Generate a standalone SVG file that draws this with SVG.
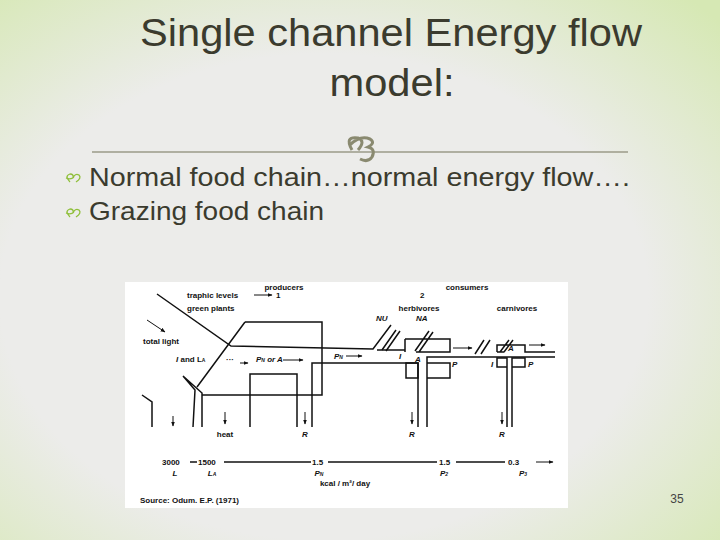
<svg xmlns="http://www.w3.org/2000/svg" width="720" height="540" viewBox="0 0 720 540">
<defs>
<radialGradient id="bg" cx="0.45" cy="0.55" r="0.75">
<stop offset="0.6" stop-color="#ececea"/><stop offset="1" stop-color="#d6e8b4"/>
</radialGradient>
<marker id="ah" viewBox="0 0 10 10" refX="9" refY="5" markerWidth="5" markerHeight="5" orient="auto"><path d="M0,1 L10,5 L0,9 z" fill="#111"/></marker>
<style>
.t{font-family:"Liberation Sans",Arial,sans-serif;fill:#3b3b2e}
.s{font-family:"Liberation Sans",Arial,sans-serif;font-size:8px;fill:#111;font-weight:bold}
.i{font-style:italic}
.l{stroke:#111;stroke-width:1.5;fill:none}
.a{stroke:#111;stroke-width:1;fill:none;marker-end:url(#ah)}
.b{stroke:#8fbf3a;stroke-width:1.3;fill:none}
</style>
</defs>
<rect width="720" height="540" fill="url(#bg)"/>
<g id="title">
<text class="t" x="391" y="46" font-size="38" text-anchor="middle" textLength="502" lengthAdjust="spacingAndGlyphs">Single channel Energy flow</text>
<text class="t" x="392" y="96" font-size="38" text-anchor="middle" textLength="125" lengthAdjust="spacingAndGlyphs">model:</text>
</g>
<g id="divider">
<line x1="92" y1="152" x2="628" y2="152" stroke="#9b9b88" stroke-width="1.5"/>
<path d="M352,150 q-8,-14 6,-12 q8,3 0,12 M350,145 q10,-10 20,-6 q6,4 -2,8 q8,2 4,10 q-4,6 -12,2" stroke="#8a8a70" stroke-width="3" fill="none"/>
</g>
<g id="bullets">
<path class="b" d="M70,182 q-6,-6 0,-8 q4,0 3,4 q2,-5 6,-3 q3,3 -3,7 M66,178 q5,2 8,-1"/>
<text class="t" x="89" y="186" font-size="26" fill="#222" textLength="541" lengthAdjust="spacingAndGlyphs">Normal food chain…normal energy flow….</text>
<path class="b" d="M70,217 q-6,-6 0,-8 q4,0 3,4 q2,-5 6,-3 q3,3 -3,7 M66,213 q5,2 8,-1"/>
<text class="t" x="89" y="220" font-size="26" textLength="235" lengthAdjust="spacingAndGlyphs">Grazing food chain</text>
</g>
<g id="figure">
<rect x="125" y="282" width="443" height="226" fill="#fff"/>
<g id="connectors">
<path class="l" d="M157,294 L231,346 L373,349 L391,325"/>
<path class="l" d="M382,350 L396,330 M386,351 L400,331"/>
<path class="l" d="M377,350 L405,350"/>
<path class="l" d="M245,322 L322,322 L322,395 L202,395 M245,322 L197,387 M183,376 L195,390 L193,427 M183,376 L202,393 L202,427"/>
<path class="l" d="M142,395 L152,402 L152,427"/>
<path class="l" d="M250,427 L250,374 L297,374 L297,427"/>
<path class="l" d="M312,427 L312,363 L418,363 L418,427 M427,427 L427,357 L555,357"/>
<path class="l" d="M405,339 L450,339 L450,352 L416,352 M405,352 L405,339 M415,351 L429,331 M419,352 L433,332"/>
<rect class="l" x="406" y="363" width="12" height="15"/>
<path class="l" d="M427,363 L450,363 L450,378 L427,378"/>
<path class="l" d="M475,354 L484,340 M481,354 L490,340"/>
<path class="l" d="M497,352 L497,345 L525,345 L525,352 L555,352 M497,352 L504,352 M500,352 L509,340 M504,352 L513,340"/>
<path class="l" d="M507,427 L507,358 L497,358 L497,367 L507,367 M512,427 L512,358 L525,358 L525,367 L512,367"/>
<line class="a" x1="453" y1="348" x2="472" y2="348"/>
<line class="a" x1="529" y1="345" x2="545" y2="345"/>
<line class="a" x1="147" y1="320" x2="165" y2="332"/>
<line class="a" x1="254" y1="295" x2="272" y2="295"/>
<line class="a" x1="283" y1="360" x2="303" y2="360"/>
<line class="a" x1="346" y1="356" x2="362" y2="356"/>
<line class="a" x1="240" y1="363" x2="248" y2="363"/>
<line class="a" x1="173" y1="416" x2="173" y2="426"/>
<line class="a" x1="225" y1="412" x2="225" y2="424"/>
<line class="a" x1="305" y1="412" x2="305" y2="424"/>
<line class="a" x1="412" y1="412" x2="412" y2="424"/>
<line class="a" x1="502" y1="412" x2="502" y2="424"/>
<line class="l" stroke-width="1" x1="190" y1="462" x2="197" y2="462"/>
<line class="l" stroke-width="1" x1="224" y1="462" x2="311" y2="462"/>
<line class="l" stroke-width="1" x1="328" y1="462" x2="437" y2="462"/>
<line class="l" stroke-width="1" x1="456" y1="462" x2="505" y2="462"/>
<line class="a" x1="536" y1="462" x2="553" y2="462"/>
</g>
<g id="labels">
<text class="s" x="284" y="290" text-anchor="middle">producers</text>
<text class="s" x="467" y="290" text-anchor="middle">consumers</text>
<text class="s" x="187" y="298">traphic levels</text>
<text class="s" x="276" y="298">1</text>
<text class="s" x="187" y="311">green plants</text>
<text class="s" x="420" y="298">2</text>
<text class="s" x="419" y="311" text-anchor="middle">herbivores</text>
<text class="s" x="517" y="311" text-anchor="middle">carnivores</text>
<text class="s" x="143" y="344">total light</text>
<text class="s i" x="376" y="321">NU</text>
<text class="s i" x="416" y="321">NA</text>
<text class="s" x="176" y="362"><tspan class="i">I</tspan> and L<tspan font-size="5">A</tspan></text>
<text class="s" x="226" y="362">···</text>
<text class="s i" x="256" y="362">P<tspan font-size="5">N</tspan> or A</text>
<text class="s i" x="334" y="359">P<tspan font-size="5">N</tspan></text>
<text class="s i" x="399" y="359">I</text>
<text class="s i" x="415" y="362">A</text>
<text class="s i" x="452" y="367">P</text>
<text class="s i" x="491" y="367">I</text>
<text class="s i" x="508" y="351">A</text>
<text class="s i" x="528" y="367">P</text>
<text class="s" x="225" y="437" text-anchor="middle">heat</text>
<text class="s i" x="305" y="437" text-anchor="middle">R</text>
<text class="s i" x="412" y="437" text-anchor="middle">R</text>
<text class="s i" x="502" y="437" text-anchor="middle">R</text>
<text class="s" x="162" y="465">3000</text>
<text class="s" x="198" y="465">1500</text>
<text class="s" x="312" y="465">1.5</text>
<text class="s" x="439" y="465">1.5</text>
<text class="s" x="508" y="465">0.3</text>
<text class="s i" x="175" y="476" text-anchor="middle">L</text>
<text class="s i" x="212" y="476" text-anchor="middle">L<tspan font-size="5">A</tspan></text>
<text class="s i" x="319" y="476" text-anchor="middle">P<tspan font-size="5">N</tspan></text>
<text class="s i" x="444" y="476" text-anchor="middle">P<tspan font-size="5">2</tspan></text>
<text class="s i" x="523" y="476" text-anchor="middle">P<tspan font-size="5">3</tspan></text>
<text class="s" x="345" y="486" text-anchor="middle">kcal / m²/ day</text>
<text class="s" x="140" y="503" font-size="7">Source: Odum. E.P. (1971)</text>
</g>
</g>
<text x="677" y="503" font-family="Liberation Sans,Arial,sans-serif" font-size="12" fill="#444" text-anchor="middle">35</text>
</svg>
